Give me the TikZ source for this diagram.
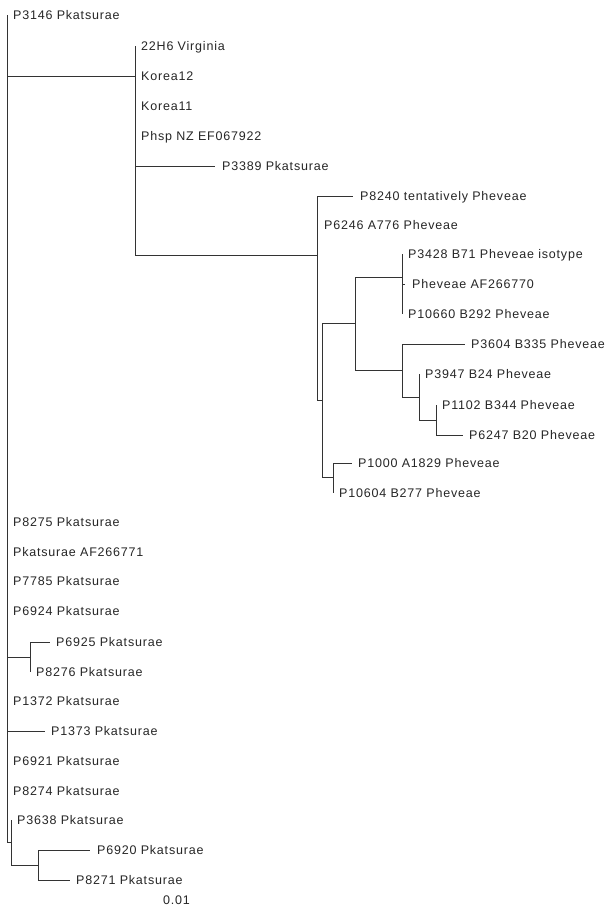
\documentclass[tikz,border=0pt]{standalone}
\usepackage{fontspec}
\setmainfont{Liberation Sans}[LetterSpace=6.4]
\begin{document}
\begin{tikzpicture}[x=1pt,y=1pt,
  br/.style={draw=black!80,line width=0.9pt},
  lab/.style={anchor=west,inner sep=0pt,text height=9pt,text depth=0pt,text=black!85,font=\fontsize{12.5}{14}\selectfont}]
\useasboundingbox[fill=white] (0,0) rectangle (614,-906);
% ---------- inner nodes ----------
\coordinate (rootT) at (7,-15);  \coordinate (rootB) at (7,-842);
\coordinate (nA) at (135,-76);   \coordinate (nAt) at (135,-46);  \coordinate (nAb) at (135,-255);
\coordinate (nB) at (317,-255);  \coordinate (nBt) at (317,-196); \coordinate (nBb) at (317,-400);
\coordinate (nC) at (322,-400);  \coordinate (nCt) at (322,-323); \coordinate (nCb) at (322,-477);
\coordinate (nD) at (355,-323);  \coordinate (nDt) at (355,-277); \coordinate (nDb) at (355,-370);
\coordinate (nE) at (402,-277);  \coordinate (nEt) at (402,-254); \coordinate (nEb) at (402,-314);
\coordinate (nF) at (402,-370);  \coordinate (nFt) at (402,-344); \coordinate (nFb) at (402,-397);
\coordinate (nG) at (419,-397);  \coordinate (nGt) at (419,-374); \coordinate (nGb) at (419,-420);
\coordinate (nH) at (436,-420);  \coordinate (nHt) at (436,-405); \coordinate (nHb) at (436,-435);
\coordinate (nI) at (333,-477);  \coordinate (nIt) at (333,-463); \coordinate (nIb) at (333,-493);
\coordinate (nJ) at (30,-657);   \coordinate (nJt) at (30,-642);  \coordinate (nJb) at (30,-672);
\coordinate (nK) at (11,-842);   \coordinate (nKt) at (11,-820);  \coordinate (nKb) at (11,-865);
\coordinate (nL) at (38,-865);   \coordinate (nLt) at (38,-850);  \coordinate (nLb) at (38,-880);
% ---------- tips with branch length ----------
\coordinate (t3389) at (215,-166);
\coordinate (t8240) at (353,-196);
\coordinate (tAF70) at (405,-284);
\coordinate (t3604) at (465,-344);
\coordinate (t6247) at (463,-435);
\coordinate (t1000) at (352,-463);
\coordinate (t6925) at (50,-642);
\coordinate (t1373) at (45,-731);
\coordinate (t6920) at (90,-850);
\coordinate (t8271) at (70,-880);
% ---------- labels ----------
\node[lab] (lP3146) at (13,-15) {P3146 Pkatsurae};
\node[lab] (l22H6) at (141,-46) {22H6 Virginia};
\node[lab] (lK12) at (141,-76) {Korea12};
\node[lab] (lK11) at (141,-106) {Korea11};
\node[lab] (lPhsp) at (141,-136) {Phsp NZ EF067922};
\node[lab] (lP3389) at (222,-166) {P3389 Pkatsurae};
\node[lab] (lP8240) at (360,-196) {P8240 tentatively Pheveae};
\node[lab] (lP6246) at (324,-225) {P6246 A776 Pheveae};
\node[lab] (lP3428) at (408,-254) {P3428 B71 Pheveae isotype};
\node[lab] (lAF70) at (412,-284) {Pheveae AF266770};
\node[lab] (lP10660) at (408,-314) {P10660 B292 Pheveae};
\node[lab] (lP3604) at (471,-344) {P3604 B335 Pheveae};
\node[lab] (lP3947) at (425,-374) {P3947 B24 Pheveae};
\node[lab] (lP1102) at (442,-405) {P1102 B344 Pheveae};
\node[lab] (lP6247) at (469,-435) {P6247 B20 Pheveae};
\node[lab] (lP1000) at (358,-463) {P1000 A1829 Pheveae};
\node[lab] (lP10604) at (339,-493) {P10604 B277 Pheveae};
\node[lab] (lP8275) at (13,-522) {P8275 Pkatsurae};
\node[lab] (lAF71) at (13,-552) {Pkatsurae AF266771};
\node[lab] (lP7785) at (13,-581) {P7785 Pkatsurae};
\node[lab] (lP6924) at (13,-611) {P6924 Pkatsurae};
\node[lab] (lP6925) at (56,-642) {P6925 Pkatsurae};
\node[lab] (lP8276) at (36,-672) {P8276 Pkatsurae};
\node[lab] (lP1372) at (13,-701) {P1372 Pkatsurae};
\node[lab] (lP1373) at (51,-731) {P1373 Pkatsurae};
\node[lab] (lP6921) at (13,-761) {P6921 Pkatsurae};
\node[lab] (lP8274) at (13,-791) {P8274 Pkatsurae};
\node[lab] (lP3638) at (17,-820) {P3638 Pkatsurae};
\node[lab] (lP6920) at (97,-850) {P6920 Pkatsurae};
\node[lab] (lP8271) at (76,-880) {P8271 Pkatsurae};
\node[lab] (scale) at (163,-900) {0.01};
% ---------- branches ----------
\draw[br] (rootT) -- (rootB);
\draw[br] (rootT |- nA) -- (nA);
\draw[br] (nAt) -- (nAb);
\draw[br] (nA |- t3389) -- (t3389);
\draw[br] (nAb) -- (nB);
\draw[br] (nBt) -- (nBb);
\draw[br] (nBt) -- (t8240);
\draw[br] (nBb) -- (nC);
\draw[br] (nCt) -- (nCb);
\draw[br] (nCt) -- (nD);
\draw[br] (nDt) -- (nDb);
\draw[br] (nDt) -- (nE);
\draw[br] (nEt) -- (nEb);
\draw[br] (nE |- tAF70) -- (tAF70);
\draw[br] (nDb) -- (nF);
\draw[br] (nFt) -- (nFb);
\draw[br] (nFt) -- (t3604);
\draw[br] (nFb) -- (nG);
\draw[br] (nGt) -- (nGb);
\draw[br] (nGb) -- (nH);
\draw[br] (nHt) -- (nHb);
\draw[br] (nHb) -- (t6247);
\draw[br] (nCb) -- (nI);
\draw[br] (nIt) -- (nIb);
\draw[br] (nIt) -- (t1000);
\draw[br] (rootT |- nJ) -- (nJ);
\draw[br] (nJt) -- (nJb);
\draw[br] (nJt) -- (t6925);
\draw[br] (rootT |- t1373) -- (t1373);
\draw[br] (rootB) -- (nK);
\draw[br] (nKt) -- (nKb);
\draw[br] (nKb) -- (nL);
\draw[br] (nLt) -- (nLb);
\draw[br] (nLt) -- (t6920);
\draw[br] (nLb) -- (t8271);
\end{tikzpicture}
\end{document}
